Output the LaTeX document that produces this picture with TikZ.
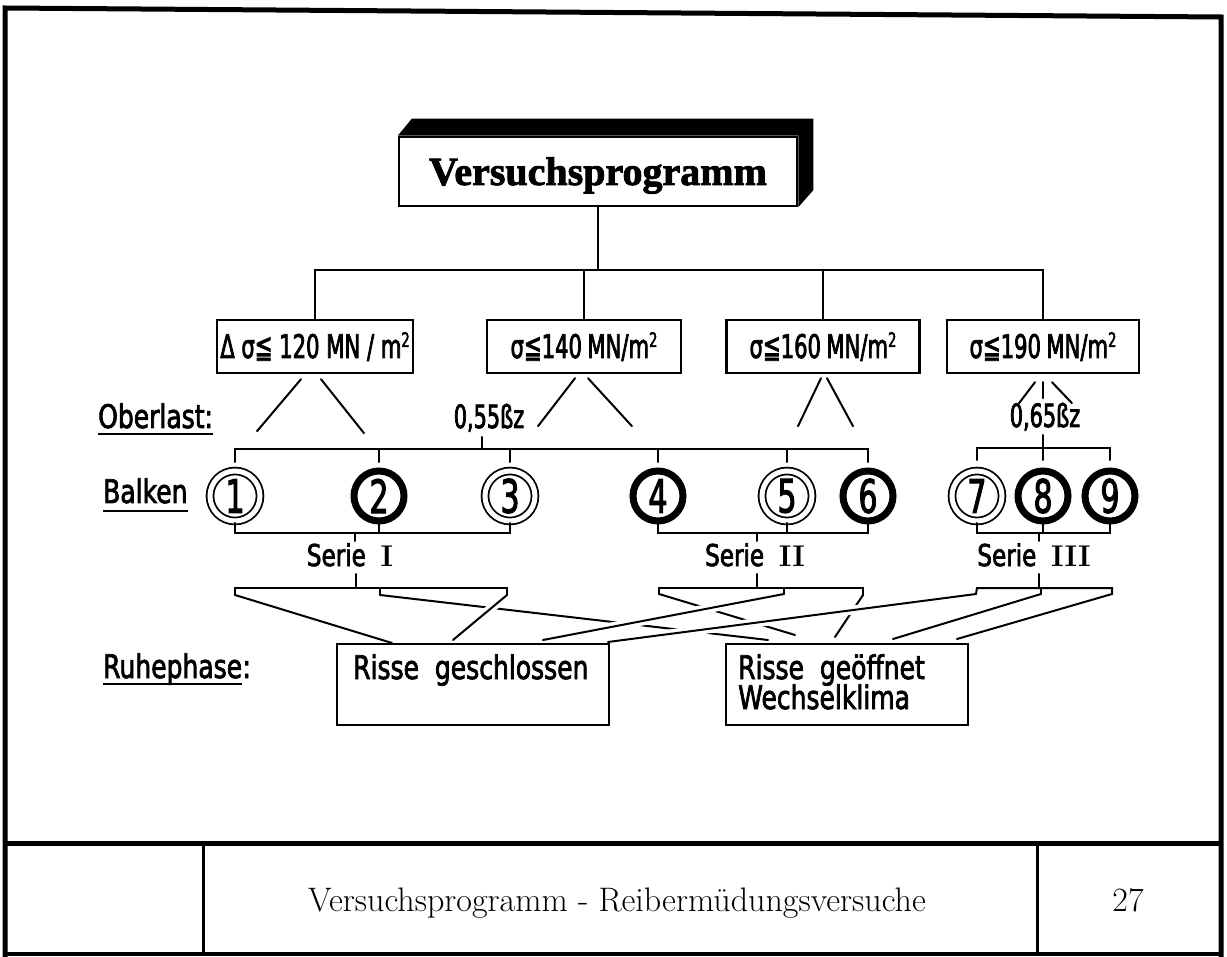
\documentclass[tikz,border=0pt]{standalone}
\usepackage{fontspec}
\newfontfamily\isoc[FakeStretch=0.65,FakeBold=2.2]{DejaVu Sans}
\newfontfamily\isol[FakeStretch=0.77,FakeBold=2.2]{DejaVu Sans}
\newfontfamily\titlef[FakeBold=2]{Liberation Serif}
\newcommand{\msq}{\raisebox{11pt}{\fontsize{20}{20}\selectfont 2}}
\begin{document}
\begin{tikzpicture}[x=1pt,y=-1pt,
  conn/.style={line width=2pt,line cap=round},
  framel/.style={line width=5pt,line join=miter},
  sbox/.style={draw,line width=2.4pt,minimum height=53pt,inner sep=0pt,text height=23pt,text depth=0pt,font=\isoc\fontsize{32.5}{34}\selectfont},
  ringd/.style={circle,draw,line width=1.8pt,double,double distance=5pt,minimum size=50pt,inner sep=0pt,font=\isoc\fontsize{46}{46}\selectfont},
  ringb/.style={circle,draw,line width=7pt,minimum size=50pt,inner sep=0pt,font=\isoc\fontsize{46}{46}\selectfont},
  lab/.style={inner sep=0pt,anchor=base west,font=\isol\fontsize{32.5}{34}\selectfont},
  serie/.style={inner sep=0pt,anchor=base,font=\isol\fontsize{30}{32}\selectfont},
  rbox/.style={draw,line width=2.4pt,inner sep=0pt,anchor=north west,minimum height=81pt},
  ozlab/.style={inner sep=0pt,anchor=base,font=\isoc\fontsize{32}{34}\selectfont},
  gapped/.style={preaction={draw=white,line width=9pt,line cap=butt,shorten <=10pt,shorten >=16pt}},
]
\useasboundingbox (0,0) rectangle (1227,957);
% frame
\draw[framel] (5,960) -- (5,8) -- (1221,17) -- (1221,960);
\draw[line width=4pt] (5,954) -- (1221,954);
\draw[framel] (5,843) -- (1221,843);
\draw[line width=3pt] (203,843) -- (203,954) (1037,843) -- (1037,954);
\node[inner sep=0pt,anchor=base,font=\fontsize{34}{40}\selectfont] (foot) at (617,911) {Versuchsprogramm - Reibermüdungsversuche};
\node[inner sep=0pt,anchor=base,font=\fontsize{34}{40}\selectfont] (page) at (1128,911) {27};

% title
\node[draw,line width=2.5pt,minimum width=398pt,minimum height=69pt,inner sep=0pt,fill=white,text height=27pt,text depth=0pt,font=\titlef\bfseries\fontsize{40}{44}\selectfont] (title) at (598,171.5) {Versuchsprogramm};
\fill (title.north west) -- ([shift={(14,-17)}]title.north west) -- ([shift={(15,-17)}]title.north east) -- ([shift={(15,-17)}]title.south east) -- (title.south east) -- (title.north east) -- cycle;

% stress boxes
\node[sbox,minimum width=196pt] (b1) at (315,346.5) {Δ σ≦ 120 MN / m\msq};
\node[sbox,minimum width=194pt] (b2) at (584,346.5) {σ≦140\,MN/m\msq};
\node[sbox,minimum width=193pt] (b3) at (823,346.5) {σ≦160\,MN/m\msq};
\node[sbox,minimum width=192pt] (b4) at (1043,346.5) {σ≦190\,MN/m\msq};

\draw[conn] (title.south) -- (title.south |- 0,270);
\draw[conn] (b1.north) -- (b1.north |- 0,270) -- (b4.north |- 0,270) -- (b4.north);
\draw[conn] (b2.north) -- (b2.north |- 0,270);
\draw[conn] (b3.north) -- (b3.north |- 0,270);

\draw[conn] ([shift={(-14,5)}]b1.south) -- ([shift={(-58,57)}]b1.south);
\draw[conn] ([shift={(6,5)}]b1.south) -- ([shift={(49,59)}]b1.south);
\draw[conn] ([shift={(-9,4)}]b2.south) -- ([shift={(-46,52)}]b2.south);
\draw[conn] ([shift={(4,4)}]b2.south) -- ([shift={(48,52)}]b2.south);
\draw[conn] ([shift={(-2,4)}]b3.south) -- ([shift={(-25,52)}]b3.south);
\draw[conn] ([shift={(4,4)}]b3.south) -- ([shift={(30,52)}]b3.south);
\draw[conn] ([shift={(-8,8)}]b4.south) -- ([shift={(-24,29)}]b4.south);
\draw[conn] ([shift={(0,8)}]b4.south) -- ([shift={(0,24)}]b4.south);
\draw[conn] ([shift={(9,8)}]b4.south) -- ([shift={(29,29)}]b4.south);

% left labels
\node[lab] (lober) at (98,428) {Oberlast:};
\draw[line width=2pt] ([shift={(0,6)}]lober.base west) -- ([shift={(0,6)}]lober.base east);
\node[lab] (lbalk) at (103,503) {Balken};
\draw[line width=2pt] ([shift={(0,8)}]lbalk.base west) -- ([shift={(0,8)}]lbalk.base east);
\node[lab] (lruhe) at (103,678) {Ruhephase};
\node[lab] (lcolon) at (lruhe.base east) {:};
\draw[line width=2pt] ([shift={(0,6)}]lruhe.base west) -- ([shift={(0,6)}]lruhe.base east);

% Oberlast labels
\node[ozlab] (o55) at (489,428) {0,55ßz};
\node[ozlab] (o65) at (1045,427) {0,65ßz};
\draw[conn] ([shift={(-7,9)}]o55.base) -- ([shift={(-7,21)}]o55.base);
\draw[conn] ([shift={(-2,8)}]o65.base) -- ([shift={(-2,21)}]o65.base);

% beams
\node[ringd] (c1) at (235,496) {1};
\node[ringb] (c2) at (379,496) {2};
\node[ringd] (c3) at (510,496) {3};
\node[ringb] (c4) at (658,496) {4};
\node[ringd] (c5) at (787,496) {5};
\node[ringb] (c6) at (868,496) {6};
\node[ringd] (c7) at (977,496) {7};
\node[ringb] (c8) at (1043,496) {8};
\node[ringb] (c9) at (1110,496) {9};

% top brackets
\draw[conn] (c1 |- 0,462) -- (c1 |- 0,449) -- (c6 |- 0,449) -- (c6 |- 0,462);
\foreach \i in {2,3,4,5} \draw[conn] (c\i |- 0,449) -- (c\i |- 0,462);
\draw[conn] (c7 |- 0,460) -- (c7 |- 0,448) -- (c9 |- 0,448) -- (c9 |- 0,460);
\draw[conn] (c8 |- 0,448) -- (c8 |- 0,460);

% bottom brackets
\draw[conn] (c1 |- 0,523) -- (c1 |- 0,533) -- (c3 |- 0,533) -- (c3 |- 0,523);
\draw[conn] (c2 |- 0,523) -- (c2 |- 0,533);
\draw[conn] (c4 |- 0,523) -- (c4 |- 0,533) -- (c6 |- 0,533) -- (c6 |- 0,523);
\draw[conn] (c5 |- 0,523) -- (c5 |- 0,533);
\draw[conn] (c7 |- 0,523) -- (c7 |- 0,533) -- (c9 |- 0,533) -- (c9 |- 0,523);
\draw[conn] (c8 |- 0,523) -- (c8 |- 0,533);

% series labels
\node[serie] (s1) at (350,566) {Serie\ \ {\rmfamily\bfseries I}};
\node[serie] (s2) at (755,566) {Serie\ \ {\rmfamily\bfseries II}};
\node[serie] (s3) at (1034,566) {Serie\ \ {\rmfamily\bfseries III}};
\draw[conn] (355,533) -- (355,541);
\draw[conn] (757,533) -- (757,541);
\draw[conn] (1039,533) -- (1039,541);
\draw[conn] (356,574) -- (356,588);
\draw[conn] (757,574) -- (757,588);
\draw[conn] (1039,574) -- (1039,588);

% lower brackets
\draw[conn] (235,595) -- (235,588) -- (507,588) -- (507,595);
\draw[conn] (380,588) -- (380,595);
\draw[conn] (659,594) -- (659,588) -- (863,588) -- (863,595);
\draw[conn] (784,588) -- (784,594);
\draw[conn] (976,594) -- (977,588) -- (1112,588) -- (1112,594);
\draw[conn] (1041,588) -- (1041,594);

% rest phase boxes
\node[rbox,minimum width=272pt] (rA) at (336,643) {};
\node[rbox,minimum width=242pt] (rB) at (725,643) {};
\node[lab] (tA) at (353,679) {Risse\ \ geschlossen};
\node[lab] (tB1) at (738,679) {Risse\ \ geöffnet};
\node[lab] (tB2) at (738,709) {Wechselklima};

\coordinate (A1) at (392,643);
\coordinate (A3) at (453,640);
\coordinate (A5) at (543,640);
\coordinate (A7) at (608,642);
\coordinate (B2) at (768,640);
\coordinate (B4) at (795,635);
\coordinate (B6) at (835,637);
\coordinate (B8) at (893,639);
\coordinate (B9) at (957,639);

\draw[conn] (380,595) -- (B2);
\draw[conn] (659,594) -- (B4);
\draw[conn] (863,595) -- (B6);
\draw[conn,gapped] (507,595) -- (A3);
\draw[conn,gapped] (784,594) -- (A5);
\draw[conn,gapped] (976,594) -- (A7);
\draw[conn] (235,595) -- (A1);
\draw[conn] (1041,594) -- (B8);
\draw[conn] (1112,594) -- (B9);
\end{tikzpicture}
\end{document}
